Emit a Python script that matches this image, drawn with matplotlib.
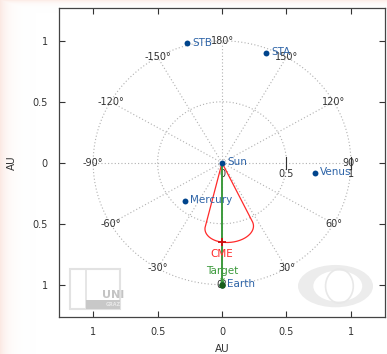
import numpy as np
import matplotlib.pyplot as plt
from matplotlib.patches import Rectangle, Ellipse
from matplotlib.ticker import FuncFormatter

plt.rcParams["font.family"] = "DejaVu Sans"

# body positions in AU (x towards +90 deg, y towards 180 deg, Earth at bottom)
bodies = ["Sun", "Mercury", "Venus", "Earth", "STA", "STB"]
body_x = [0.0, -0.29, 0.72, 0.0, 0.34, -0.27]
body_y = [0.0, -0.31, -0.08, -1.0, 0.90, 0.98]

# CME ellipse: direction (deg from Earth line), half width (deg), aspect ratio, apex (AU)
cme_dir = 6.0
cme_halfwidth = 20.0
cme_f = 0.65
cme_apex = 0.656

grid_radii = [0.5, 1.0]
grid_angles = [-150, -120, -90, -60, -30, 0, 30, 60, 90, 120, 150, 180]
radial_ticks = [0, 0.5, 1]
axis_ticks = [-1, -0.5, 0, 0.5, 1]

marker_blue = "#00448c"
text_blue = "#2f65a8"
cme_red = "#ff2a2a"
target_green = "#3c9a3c"
grid_gray = "#b0b0b0"

fig = plt.figure(figsize=(3.87, 3.54), dpi=100)

# faint tinted border of the frame
bg = fig.add_axes([0, 0, 1, 1], zorder=-5)
h, w = 354, 387
xx = np.arange(w)[None, :].repeat(h, 0)
yy = np.arange(h)[:, None].repeat(w, 1)
tint = np.ones((h, w, 4))
tint[..., 0] = 0.98
tint[..., 1] = 0.86
tint[..., 2] = 0.82
alpha = np.maximum(np.exp(-xx / 7.0) * 0.6, np.exp(-yy / 2.5) * 0.5)
tint[..., 3] = alpha
bg.imshow(tint, aspect="auto", extent=[0, 1, 0, 1])
bg.axis("off")

ax = fig.add_axes([0.1525, 0.1045, 0.8425, 0.8725])
ax.set_xlim(-1.265, 1.265)
ax.set_ylim(-1.265, 1.268)

# polar grid
t = np.linspace(0, 2 * np.pi, 400)
for r in grid_radii:
    ax.plot(r * np.cos(t), r * np.sin(t), ls=(0, (1, 2)), color=grid_gray, lw=0.8, zorder=1)
for a in grid_angles:
    ar = np.radians(a)
    ax.plot([0, np.sin(ar)], [0, -np.cos(ar)], ls=(0, (1, 2)), color=grid_gray, lw=0.8, zorder=1)
    ax.text(np.sin(ar), -np.cos(ar), f"{a}°", ha="center", va="center",
            fontsize=7, color="#333333", zorder=3)

for r in radial_ticks:
    ax.text(r, -0.05, f"{r:g}", ha="center", va="top", fontsize=7, color="#333333", zorder=3)
    if r > 0:
        ax.plot([r, r], [-0.05, 0.05], color="#333333", lw=0.8, zorder=2)

# CME front: ellipse tangent to the half-width lines from the Sun
lam = np.radians(cme_halfwidth)
k = np.sqrt(1 + 1 / (cme_f ** 2 * np.tan(lam) ** 2))
b = cme_apex / (1 + k)
a = b / cme_f
d = k * b
tt = np.arccos(-b / d)
s = np.linspace(-tt, tt, 200)
u = d + b * np.cos(s)
v = a * np.sin(s)
dr = np.radians(cme_dir)
ex, ey = np.sin(dr), -np.cos(dr)
px, py = np.cos(dr), np.sin(dr)
arc_x = u * ex + v * px
arc_y = u * ey + v * py
order = np.argsort(arc_x)
cme_hit = np.interp(0.0, arc_x[order], arc_y[order])
ax.plot(np.r_[0, arc_x, 0], np.r_[0, arc_y, 0], color=cme_red, lw=0.9, zorder=4)

# target line Sun -> Earth
earth = bodies.index("Earth")
ax.plot([0, body_x[earth]], [0, body_y[earth]], color=target_green, lw=1.4, zorder=4)
ax.plot(body_x[earth], body_y[earth] + 0.035, marker="x", color=target_green, ms=3, mew=0.8, zorder=5)

ax.plot(0, cme_hit, marker="+", color="#d01010", ms=6, mew=1.3, zorder=6)
ax.text(0, cme_hit - 0.06, "CME", color=cme_red, ha="center", va="top", fontsize=7.5, zorder=6)
ax.text(0, body_y[earth] + 0.07, "Target", color=target_green, ha="center", va="bottom",
        fontsize=7.5, zorder=6)

# planets and spacecraft
ax.scatter(body_x, body_y, s=18, color=marker_blue, zorder=7, linewidths=0)
ax.scatter([body_x[earth]], [body_y[earth]], s=22, color="#1a5e1a", zorder=8, linewidths=0)
for name, x, y in zip(bodies, body_x, body_y):
    ax.text(x + 0.04, y + 0.005, name, color=text_blue, ha="left", va="center",
            fontsize=7.5, zorder=8)

# logos in the lower corners
ax.add_patch(Rectangle((0.034, 0.026), 0.153, 0.129, transform=ax.transAxes,
                       fill=False, ec="#e2e2e2", lw=1.5, zorder=0))
ax.plot([0.083, 0.083], [0.026, 0.155], transform=ax.transAxes, color="#e2e2e2", lw=1.2, zorder=0)
ax.add_patch(Rectangle((0.083, 0.026), 0.104, 0.028, transform=ax.transAxes,
                       color="#c8c8c8", lw=0, zorder=0))
ax.text(0.165, 0.056, "UNI", transform=ax.transAxes, ha="center", va="bottom",
        fontsize=8, fontweight="bold", color="#c4c4c4", zorder=0)
ax.text(0.165, 0.040, "GRAZ", transform=ax.transAxes, ha="center", va="center",
        fontsize=3.5, fontweight="bold", color="#e8e8e8", zorder=0)

ax.add_patch(Ellipse((0.848, 0.10), 0.23, 0.137, transform=ax.transAxes,
                     color="#ececec", lw=0, zorder=0))
ax.add_patch(Ellipse((0.855, 0.10), 0.15, 0.10, transform=ax.transAxes,
                     color="white", lw=0, zorder=0))
ax.add_patch(Ellipse((0.86, 0.10), 0.085, 0.11, transform=ax.transAxes,
                     fill=False, ec="#e8e8e8", lw=1.2, zorder=0))

ax.set_xticks(axis_ticks)
ax.set_yticks(axis_ticks)
absfmt = FuncFormatter(lambda val, pos: f"{abs(val):g}")
ax.xaxis.set_major_formatter(absfmt)
ax.yaxis.set_major_formatter(absfmt)
ax.tick_params(direction="in", top=True, right=True, length=4, width=0.8,
               labelsize=7, colors="#333333")
ax.tick_params(axis="x", pad=7)
ax.tick_params(axis="y", pad=8)
for sp in ax.spines.values():
    sp.set_color("#444444")
    sp.set_linewidth(0.9)
ax.set_xlabel("AU", fontsize=7.5, color="#333333", labelpad=5)
ax.set_ylabel("AU", fontsize=7.5, color="#333333", labelpad=11)

fig.savefig("out.png", dpi=100)
